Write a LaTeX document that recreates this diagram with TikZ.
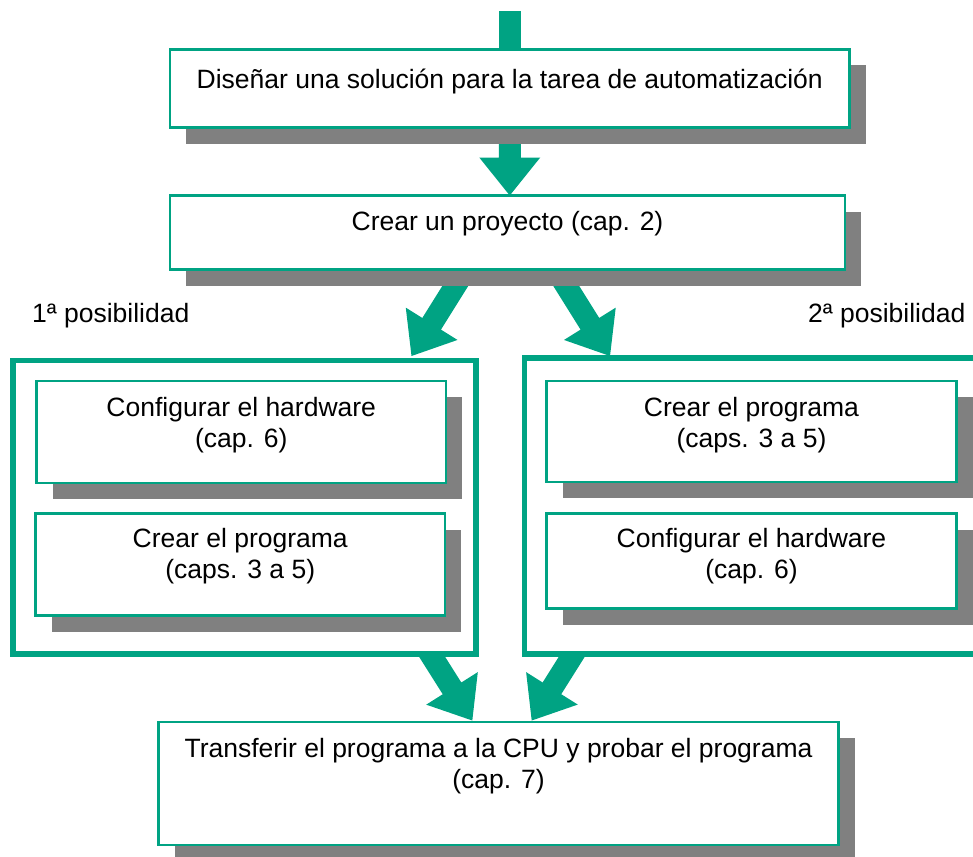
\documentclass[tikz,border=0pt]{standalone}
\usepackage{fontspec}
\setmainfont{Liberation Sans}
\usetikzlibrary{calc,shadows}
\definecolor{tgreen}{RGB}{0,163,131}
\definecolor{sgray}{RGB}{128,128,128}
\pgfdeclarelayer{bg}
\pgfsetlayers{bg,main}
\newcommand\boxfont{\fontsize{26.5}{31.5}\selectfont}
\newcommand\twolines[2]{\begin{tabular}[t]{@{}c@{}}#1\\#2\end{tabular}}
\newcommand\blockarrow[2]{%
  \coordinate (ba-h) at ($(#2)!38pt!(#1)$);
  \fill[tgreen] ($(#1)!11pt!90:(#2)$) -- ($(ba-h)!11pt!90:(#2)$)
    -- ($(ba-h)!30.5pt!90:(#2)$) -- (#2) -- ($(ba-h)!30.5pt!-90:(#2)$)
    -- ($(ba-h)!11pt!-90:(#2)$) -- ($(#1)!11pt!-90:(#2)$) -- cycle;}
\tikzset{
  box/.style={draw=tgreen, line width=2.6pt, fill=white, inner sep=0pt,
    outer sep=0pt, anchor=north west, font=\boxfont, text=black,
    drop shadow={shadow xshift=16pt, shadow yshift=-16pt, fill=sgray, opacity=1}},
  frame/.style={draw=tgreen, line width=5.6pt, fill=white, inner sep=0pt,
    outer sep=0pt, anchor=north west},
  lbl/.style={font=\boxfont, inner sep=0pt, anchor=base west}
}
\begin{document}
\begin{tikzpicture}[x=1pt,y=-1pt]
\useasboundingbox (0,0) rectangle (973,856);
% frames
\node[frame, minimum width=463pt, minimum height=293.5pt] (f1) at (13,360.5) {};
\node[frame, minimum width=480pt, minimum height=296pt] (f2) at (524.5,358) {};
% boxes
\node[box, minimum width=679.5pt, minimum height=78pt, text height=39.5pt, text depth=38.5pt]
  (b1) at (170,49.5) {Diseñar una solución para la tarea de automatización};
\node[box, minimum width=675pt, minimum height=74pt, text height=35pt, text depth=39pt]
  (b2) at (170,195.5) {Crear un proyecto (cap. 2)};
\node[box, minimum width=409.5pt, minimum height=102pt, text height=35pt, text depth=67pt]
  (ba) at (36.5,381) {\twolines{Configurar el hardware}{(cap. 6)}};
\node[box, minimum width=409.5pt, minimum height=102pt, text height=33.5pt, text depth=68.5pt]
  (bb) at (35.5,513.5) {\twolines{Crear el programa}{(caps. 3 a 5)}};
\node[box, minimum width=410pt, minimum height=101pt, text height=35pt, text depth=66pt]
  (bc) at (546.5,381) {\twolines{Crear el programa}{(caps. 3 a 5)}};
\node[box, minimum width=410pt, minimum height=95pt, text height=33.5pt, text depth=61.5pt]
  (bd) at (546.5,513.5) {\twolines{Configurar el hardware}{(cap. 6)}};
\node[box, minimum width=680pt, minimum height=123pt, text height=35pt, text depth=88pt]
  (be) at (158.5,722) {\twolines{Transferir el programa a la CPU y probar el programa}{(cap. 7)}};
% labels
\node[lbl] (l1) at (32,322) {1ª posibilidad};
\node[lbl] (l2) at (808,322) {2ª posibilidad};
% arrows
\coordinate (top) at (b1.north |- 0,11);
\coordinate (v1e) at (b1.south |- b2.north);
\coordinate (d1s) at (464.5,271.2);
\coordinate (d1e) at (411.5,356);
\coordinate (d2s) at (557,271.2);
\coordinate (d2e) at (610,356);
\coordinate (e1s) at (418.9,635.9);
\coordinate (e1e) at (472.3,720.5);
\coordinate (e2s) at (584.9,635.9);
\coordinate (e2e) at (531.7,720.5);
\begin{pgfonlayer}{bg}
  \fill[tgreen] ($(top)+(-11,0)$) rectangle ($(b1.north)+(11,2)$);
  \blockarrow{b1.south}{v1e}
  \blockarrow{d1s}{d1e}
  \blockarrow{d2s}{d2e}
  \blockarrow{e1s}{e1e}
  \blockarrow{e2s}{e2e}
\end{pgfonlayer}
\end{tikzpicture}
\end{document}
